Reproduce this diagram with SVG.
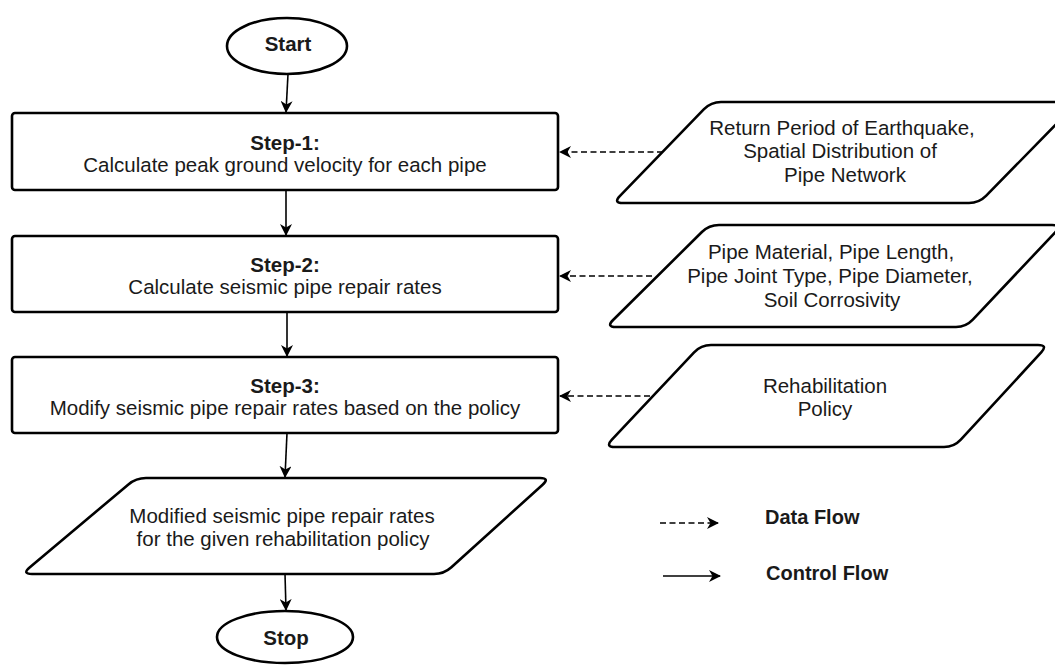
<svg xmlns="http://www.w3.org/2000/svg" width="1055" height="665" viewBox="0 0 1055 665">
<style>
.shape{fill:#fff;stroke:#000;stroke-width:2.6;stroke-linejoin:round}
.t{font-family:"Liberation Sans",Arial,sans-serif;font-size:20.5px;fill:#1a1a1a;text-anchor:middle}
.b{font-weight:bold}
.ctrl{fill:none;stroke:#000;stroke-width:1.6;marker-end:url(#ah)}
.data{fill:none;stroke:#000;stroke-width:1.6;stroke-dasharray:6 3.5;marker-end:url(#ah)}
.lg{font-family:"Liberation Sans",Arial,sans-serif;font-size:20px;font-weight:bold;fill:#1a1a1a}
</style>
<defs>
<marker id="ah" viewBox="0 0 12 12" refX="11" refY="6" markerWidth="12" markerHeight="12" markerUnits="userSpaceOnUse" orient="auto">
<path d="M0,0 L12,6 L0,12 L3.5,6 Z" fill="#000"/>
</marker>
</defs>
<rect width="1055" height="665" fill="#fff"/>
<g id="start">
<ellipse class="shape" cx="287" cy="46" rx="60" ry="28"/>
<text class="t b" x="288" y="51">Start</text>
</g>
<g id="step1">
<rect class="shape" x="12" y="113" width="546" height="77" rx="3"/>
<text class="t b" x="285" y="150">Step-1:</text>
<text class="t" x="285" y="172">Calculate peak ground velocity for each pipe</text>
</g>
<g id="step2">
<rect class="shape" x="12" y="236" width="546" height="76" rx="3"/>
<text class="t b" x="285" y="272">Step-2:</text>
<text class="t" x="285" y="294">Calculate seismic pipe repair rates</text>
</g>
<g id="step3">
<rect class="shape" x="12" y="357" width="546" height="76" rx="3"/>
<text class="t b" x="285" y="393">Step-3:</text>
<text class="t" x="285" y="415">Modify seismic pipe repair rates based on the policy</text>
</g>
<g id="output">
<path class="shape" d="M146,478 L540,478 Q550,478 542.6,484.7 L451.4,567.3 Q444,574 434,574 L32,574 Q22,574 29.6,567.6 L128.4,484.4 Q136,478 146,478 Z"/>
<text class="t" x="282" y="523">Modified seismic pipe repair rates</text>
<text class="t" x="283" y="546">for the given rehabilitation policy</text>
</g>
<g id="stop">
<ellipse class="shape" cx="285" cy="637" rx="68" ry="26"/>
<text class="t b" x="286" y="645">Stop</text>
</g>
<g id="input1">
<path class="shape" d="M721,102 L1068,102 Q1078,102 1071,109.1 L986,195.9 Q979,203 969,203 L623,203 Q613,203 620,195.8 L704,109.2 Q711,102 721,102 Z"/>
<text class="t" x="842" y="135">Return Period of Earthquake,</text>
<text class="t" x="840" y="158">Spatial Distribution of</text>
<text class="t" x="845" y="182">Pipe Network</text>
</g>
<g id="input2">
<path class="shape" d="M719,225 L1052,225 Q1062,225 1055.2,232.3 L972.8,319.7 Q966,327 956,327 L616,327 Q606,327 613.1,320 L701.9,232 Q709,225 719,225 Z"/>
<text class="t" x="831" y="259">Pipe Material, Pipe Length,</text>
<text class="t" x="830" y="283">Pipe Joint Type, Pipe Diameter,</text>
<text class="t" x="832" y="307">Soil Corrosivity</text>
</g>
<g id="input3">
<path class="shape" d="M711,345 L1038,345 Q1048,345 1041.2,352.4 L960.8,439.6 Q954,447 944,447 L615,447 Q605,447 611.9,439.7 L694.1,352.3 Q701,345 711,345 Z"/>
<text class="t" x="825" y="393">Rehabilitation</text>
<text class="t" x="825" y="416">Policy</text>
</g>
<g id="connectors">
<path class="ctrl" d="M288,74 L286,112"/>
<path class="ctrl" d="M286,190 L286,235"/>
<path class="ctrl" d="M287,312 L287,356"/>
<path class="ctrl" d="M287,433 L285,477"/>
<path class="ctrl" d="M285,574 L286,610"/>
<path class="data" d="M663,152 L560,152"/>
<path class="data" d="M652,276 L560,276"/>
<path class="data" d="M650,396 L560,396"/>
</g>
<g id="legend">
<path class="data" d="M660,523 L718,523"/>
<text class="lg" x="765" y="524">Data Flow</text>
<path class="ctrl" d="M663,576 L720,576"/>
<text class="lg" x="766" y="580">Control Flow</text>
</g>
</svg>
